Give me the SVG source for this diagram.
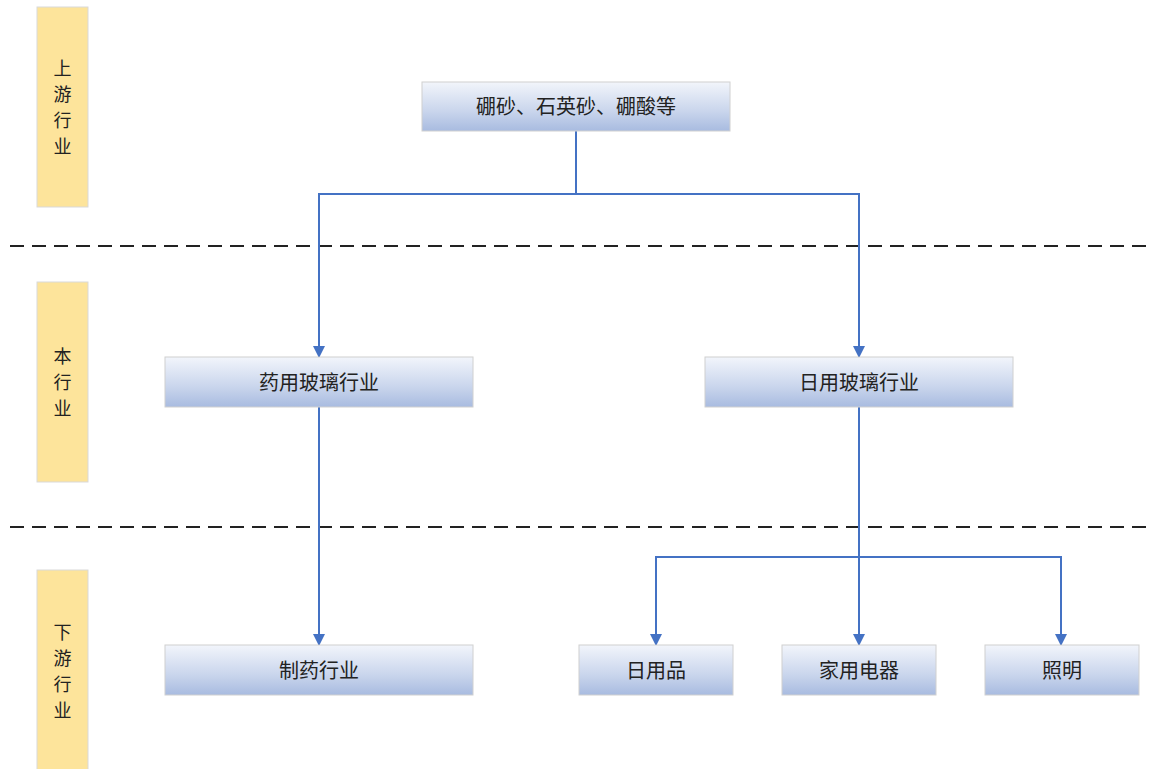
<svg xmlns="http://www.w3.org/2000/svg" width="1152" height="769" viewBox="0 0 1152 769">
<defs>
<linearGradient id="g" x1="0" y1="0" x2="0" y2="1">
<stop offset="0" stop-color="#f2f5fb"/>
<stop offset="0.6" stop-color="#c9d5ec"/>
<stop offset="1" stop-color="#a8bbe0"/>
</linearGradient>
<marker id="arr" markerWidth="12" markerHeight="12" refX="11" refY="6" orient="auto" markerUnits="userSpaceOnUse" viewBox="0 0 12 12">
<path d="M0,0 L12,6 L0,12 Z" fill="#4472c4"/>
</marker>
<style>
.box{fill:url(#g);stroke:#d0d0d0;stroke-width:1}
.side{fill:#fde49b;stroke:#d9d9d9;stroke-width:1}
.t{font-family:"Noto Sans CJK SC","Noto Sans",sans-serif;font-size:20px;fill:#222;text-anchor:middle;dominant-baseline:central}
.s{font-family:"Noto Sans CJK SC","Noto Sans",sans-serif;font-size:18px;fill:#222;text-anchor:middle;dominant-baseline:central}
.c{fill:none;stroke:#4472c4;stroke-width:2}
.a{marker-end:url(#arr)}
.dash{stroke:#222;stroke-width:2;stroke-dasharray:14 8}
</style>
</defs>
<rect width="1152" height="769" fill="#ffffff"/>
<line class="dash" x1="10" y1="246" x2="1152" y2="246"/>
<line class="dash" x1="10" y1="527" x2="1152" y2="527"/>
<g id="side-up"><rect class="side" x="37" y="7" width="51" height="200"/><text class="s" x="62.5" y="67">上</text><text class="s" x="62.5" y="93">游</text><text class="s" x="62.5" y="119">行</text><text class="s" x="62.5" y="145">业</text></g>
<g id="side-mid"><rect class="side" x="37" y="282" width="51" height="200"/><text class="s" x="62.5" y="355">本</text><text class="s" x="62.5" y="381">行</text><text class="s" x="62.5" y="407">业</text></g>
<g id="side-down"><rect class="side" x="37" y="570" width="51" height="205"/><text class="s" x="62.5" y="631">下</text><text class="s" x="62.5" y="657">游</text><text class="s" x="62.5" y="683">行</text><text class="s" x="62.5" y="709">业</text></g>
<g id="connectors">
<path class="c" d="M576,131 V194"/>
<path class="c a" d="M576,194 H319 V357"/>
<path class="c a" d="M576,194 H859 V357"/>
<path class="c a" d="M319,407 V645"/>
<path class="c a" d="M859,407 V645"/>
<path class="c a" d="M859,557 H656 V645"/>
<path class="c a" d="M859,557 H1061 V645"/>
</g>
<g id="n-raw"><rect class="box" x="422" y="82" width="308" height="49"/><text class="t" x="576" y="105.5">硼砂、石英砂、硼酸等</text></g>
<g id="n-pharma-glass"><rect class="box" x="165" y="357" width="308" height="50"/><text class="t" x="319" y="381">药用玻璃行业</text></g>
<g id="n-daily-glass"><rect class="box" x="705" y="357" width="308" height="50"/><text class="t" x="859" y="381">日用玻璃行业</text></g>
<g id="n-pharma"><rect class="box" x="165" y="645" width="308" height="50"/><text class="t" x="319" y="669">制药行业</text></g>
<g id="n-daily"><rect class="box" x="579" y="645" width="154" height="50"/><text class="t" x="656" y="669">日用品</text></g>
<g id="n-appliance"><rect class="box" x="782" y="645" width="154" height="50"/><text class="t" x="859" y="669">家用电器</text></g>
<g id="n-light"><rect class="box" x="985" y="645" width="154" height="50"/><text class="t" x="1062" y="669">照明</text></g>
</svg>
